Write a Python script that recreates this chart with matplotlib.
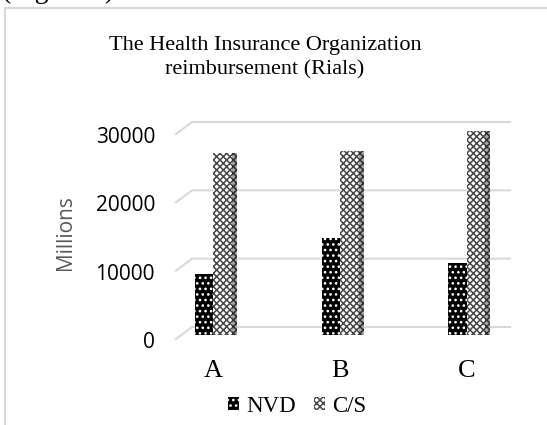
import numpy as np
import matplotlib
matplotlib.use("Agg")
import matplotlib.pyplot as plt
from matplotlib.lines import Line2D
from matplotlib.patches import Patch
from matplotlib.transforms import IdentityTransform, ScaledTranslation

# data (Millions of Rials)
categories = ["A", "B", "C"]
nvd = [9000, 14200, 10500]
cs = [26700, 26900, 29900]
y_ticks = [0, 10000, 20000, 30000]

W, H = 547, 425
fig = plt.figure(figsize=(W / 100, H / 100), dpi=100)

def px(x, y):
    # pixel (from top-left) -> figure fraction
    return x / W, 1 - y / H

# outer frame (only left and top edges visible)
fig.add_artist(Line2D([4.5 / W, 4.5 / W, 1], [0, 1 - 7.5 / H, 1 - 7.5 / H],
                      transform=fig.transFigure, color="#d9d9d9", lw=1.5))
# remains of the caption above the chart
fig.text(2 / W, 1 + 2 / H, "(Figure 2)", fontsize=20, family="Liberation Serif",
         ha="left", va="baseline")

left, right, bottom, top = 180, 505, 335, 130
ax = fig.add_axes([left / W, 1 - bottom / H, (right - left) / W, (bottom - top) / H])
ax.patch.set_visible(False)
ax.set_ylim(0, 30000)
ax.set_xlim(-0.264, 2.301)
for s in ax.spines.values():
    s.set_visible(False)

x = np.arange(len(categories))
bw = 0.146
side = 0.04

plt.rcParams["hatch.linewidth"] = 1.1
ax.bar(x - bw / 2, nvd, bw, color="black", edgecolor="white", linewidth=0,
       hatch="...", zorder=3)
ax.bar(x + bw / 2, cs, bw, color="white", edgecolor="#474747", linewidth=0,
       hatch="xxxxx", zorder=3)
ax.bar(x + bw + side / 2, cs, side, color="#a6a6a6", edgecolor="#303030", linewidth=0,
       hatch="xxxxx", zorder=2)

# 3D style gridlines (back wall, slanted at the left)
fig.canvas.draw()
for v in y_ticks:
    _, yd = ax.transData.transform((0, v))
    yb = yd + 8
    ax.add_line(Line2D([176, 192, 510], [yd - 4, yb, yb], transform=IdentityTransform(),
                       color="#d9d9d9", lw=1.5, zorder=0, clip_on=False))

ax.set_yticks(y_ticks)
ax.set_yticklabels([str(v) for v in y_ticks], fontsize=15, family="Open Sans")
ax.tick_params(axis="y", length=0, pad=18)
for lab in ax.get_yticklabels():
    lab.set_transform(lab.get_transform() + ScaledTranslation(0, -0.05, fig.dpi_scale_trans))

ax.set_xticks(x)
ax.set_xticklabels(categories, fontsize=19, family="Liberation Serif")
ax.tick_params(axis="x", length=0, pad=18)

ax.set_ylabel("Millions", fontsize=15, family="Open Sans", color="#595959", labelpad=14)

fig.text(265 / W, 1 - 58 / H, "The Health Insurance Organization\nreimbursement (Rials)",
         ha="center", va="center", fontsize=16, family="Liberation Serif",
         linespacing=1.4)

handles = [Patch(facecolor="black", edgecolor="white", hatch="...", linewidth=0),
           Patch(facecolor="white", edgecolor="#474747", hatch="xxxxx", linewidth=0)]
fig.legend(handles, ["NVD", "C/S"], loc="center", bbox_to_anchor=px(297, 406),
           ncol=2, frameon=False, prop={"family": "Liberation Serif", "size": 16.5},
           handlelength=0.5, handleheight=0.5, handletextpad=0.3, columnspacing=0.8)

fig.savefig("out.png", dpi=100)
